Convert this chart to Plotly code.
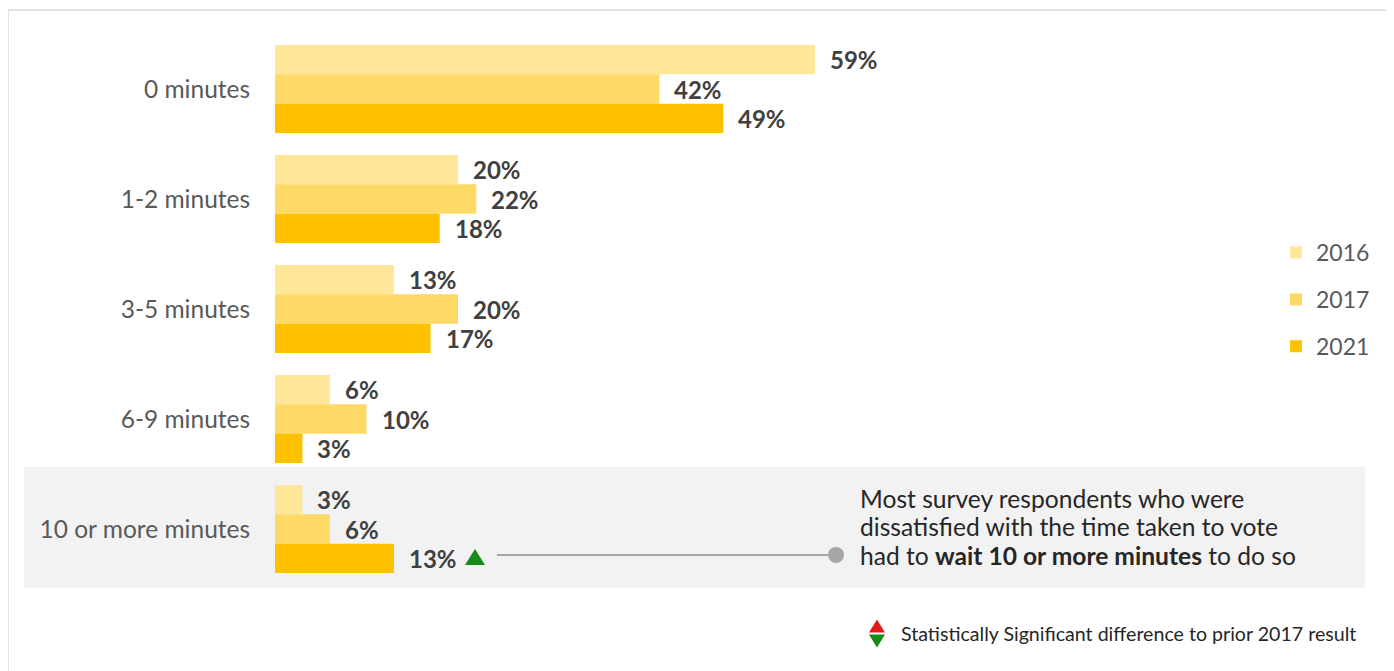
import plotly.graph_objects as go

categories = ["0 minutes", "1-2 minutes", "3-5 minutes", "6-9 minutes", "10 or more minutes"]
years = ["2016", "2017", "2021"]
values_2016 = [59, 20, 13, 6, 3]
values_2017 = [42, 22, 20, 10, 6]
values_2021 = [49, 18, 17, 3, 13]
series = [values_2016, values_2017, values_2021]
colors = ["#FFE699", "#FFD966", "#FFC000"]

W, H = 1394, 671
OFF = 8  # page body margin
L = 275 - OFF
T = 34 - OFF
R = W - (1365 - OFF)
B = H - (584 - OFF)
PW, PH = W - L - R, H - T - B
XMAX = PW / 9.15

def px(p):
    return (p - OFF - L) / PW

def py(p):
    return (H - B - (p - OFF)) / PH

FONT = "Lato"
fig = go.Figure()
for yr, vals, col in zip(years, series, colors):
    fig.add_trace(go.Bar(
        y=categories, x=vals, orientation="h", name=yr,
        marker=dict(color=col, line=dict(width=0)),
        legendgroup=yr, hoverinfo="skip",
    ))

annotations = []
bw = 0.8 / len(years)
for k, vals in enumerate(series):
    for i, v in enumerate(vals):
        annotations.append(dict(
            x=v, y=i + (k - 1) * bw, xref="x", yref="y", text=f"{v}%",
            showarrow=False, xanchor="left", yanchor="middle", xshift=13,
            font=dict(family=FONT, size=24, color="#404040", weight="bold"),
        ))

note_lines = [
    "Most survey respondents who were",
    "dissatisfied with the time taken to vote",
    "had to <b>wait 10 or more minutes</b> to do so",
]
for j, line in enumerate(note_lines):
    annotations.append(dict(
        x=px(858), y=py(498 + j * 28.5), xref="paper", yref="paper", text=line,
        showarrow=False, xanchor="left", yanchor="middle",
        font=dict(family=FONT, size=24.6, color="#262626"),
    ))
annotations.append(dict(
    x=px(899), y=py(633), xref="paper", yref="paper",
    text="Statistically Significant difference to prior 2017 result",
    showarrow=False, xanchor="left", yanchor="middle",
    font=dict(family=FONT, size=19.6, color="#262626"),
))

def tri(cx, cy, w, h, up):
    if up:
        pts = [(cx - w / 2, cy + h / 2), (cx + w / 2, cy + h / 2), (cx, cy - h / 2)]
    else:
        pts = [(cx - w / 2, cy - h / 2), (cx + w / 2, cy - h / 2), (cx, cy + h / 2)]
    return "M " + " L ".join(f"{px(a):.5f},{py(b):.5f}" for a, b in pts) + " Z"

shapes = [
    dict(type="rect", xref="paper", yref="paper", x0=px(24), x1=px(1365), y0=py(588), y1=py(467),
         fillcolor="#F2F2F2", line=dict(width=0), layer="below"),
    dict(type="rect", xref="paper", yref="paper", x0=px(8), x1=px(1420), y0=py(720), y1=py(10),
         fillcolor="rgba(0,0,0,0)", line=dict(color="#D9D9D9", width=1.5), layer="below"),
    dict(type="line", xref="paper", yref="paper", x0=px(497), x1=px(836), y0=py(555), y1=py(555),
         line=dict(color="#A6A6A6", width=2)),
    dict(type="circle", xref="paper", yref="paper", x0=px(828), x1=px(844), y0=py(563), y1=py(547),
         fillcolor="#A6A6A6", line=dict(width=0)),
    dict(type="path", xref="paper", yref="paper", path=tri(475, 557, 20, 16, True),
         fillcolor="#178A17", line=dict(width=0)),
    dict(type="path", xref="paper", yref="paper", path=tri(877, 626, 16, 13, True),
         fillcolor="#E31A1C", line=dict(width=0)),
    dict(type="path", xref="paper", yref="paper", path=tri(877, 641, 16, 13, False),
         fillcolor="#178A17", line=dict(width=0)),
]

fig.update_layout(
    width=W, height=H,
    margin=dict(l=L, r=R, t=T, b=B),
    paper_bgcolor="white", plot_bgcolor="rgba(0,0,0,0)",
    barmode="group", bargap=0.2, bargroupgap=0,
    xaxis=dict(range=[0, XMAX], visible=False, fixedrange=True),
    yaxis=dict(categoryorder="array", categoryarray=categories, range=[4.5, -0.5],
               showgrid=False, zeroline=False, showline=False,
               ticks="outside", ticklen=19, tickcolor="rgba(0,0,0,0)",
               tickfont=dict(family=FONT, size=24.5, color="#595959")),
    legend=dict(x=px(1276), y=py(231), xanchor="left", yanchor="top",
                traceorder="grouped", tracegroupgap=14, itemwidth=30,
                bgcolor="rgba(0,0,0,0)",
                font=dict(family=FONT, size=23, color="#595959")),
    annotations=annotations, shapes=shapes,
    showlegend=True,
)

fig.write_html("out.html")
